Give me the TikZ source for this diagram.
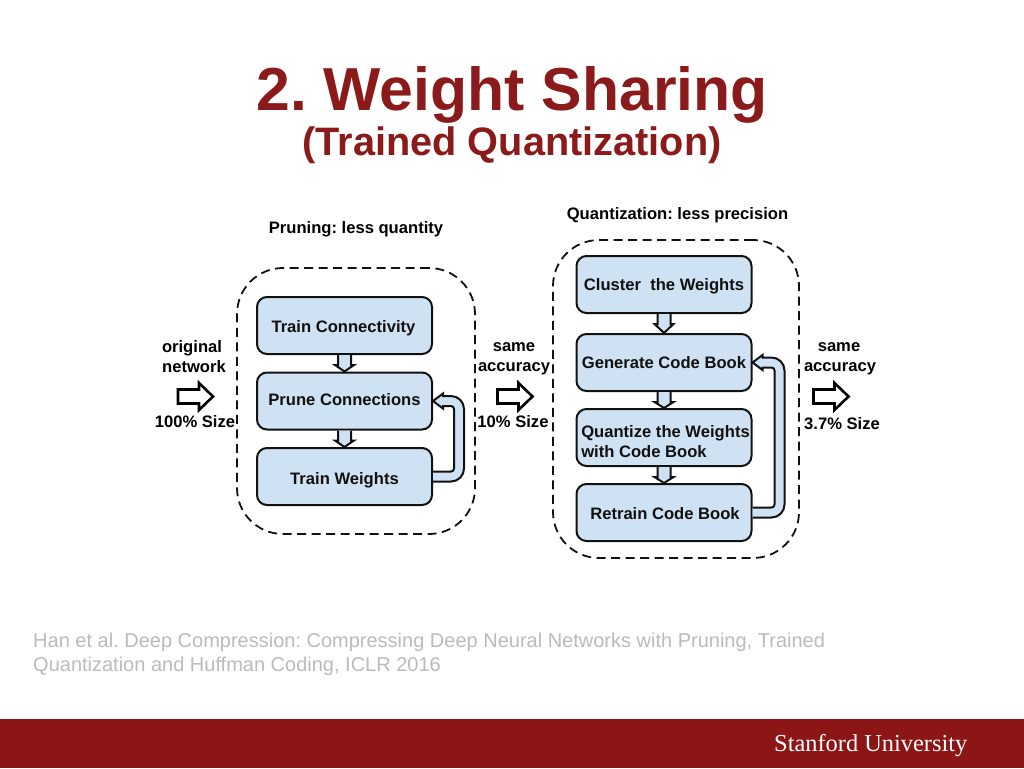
\documentclass[tikz,border=0pt]{standalone}
\usepackage{fontspec}
\setmainfont{Liberation Sans}
\newfontfamily\stanfordfont{Liberation Serif}
\usetikzlibrary{calc}
\definecolor{stanred}{HTML}{8C1515}
\definecolor{titlered}{HTML}{8B1A1A}
\definecolor{boxblue}{HTML}{CFE2F3}
\definecolor{inkdark}{HTML}{111111}
\definecolor{footgray}{HTML}{BBBBBB}
\frenchspacing
\tikzset{
  x=1pt,y=-1pt,
  stepbox/.style={draw=inkdark,fill=boxblue,line width=2pt,rounded corners=10pt,minimum width=175pt,minimum height=57pt,inner sep=0pt,font=\bfseries\fontsize{16.6}{20}\selectfont,text=inkdark,align=center},
  groupbox/.style={draw=inkdark,line width=1.8pt,dash pattern=on 9pt off 5.5pt,rounded corners=46pt,inner sep=0pt},
  lab/.style={anchor=base,inner sep=0pt,font=\bfseries\fontsize{16.6}{20}\selectfont,text=black},
  flow/.style={draw=inkdark,fill=boxblue,line width=2pt,line join=miter,miter limit=4},
  bigarrow/.style={draw=black,fill=white,line width=2.6pt,line join=miter,miter limit=4},
}
% text whose baseline sits a given distance below the centre of its box
\newcommand{\txtshift}[2]{\raisebox{-#1}[0pt][0pt]{#2}}
\newcommand{\flowdown}[2]{\draw[flow] ($(#1.south)+(-6.5,0)$) -- ($(#1.south)+(-6.5,10)$) -- ($(#1.south)+(-9.5,10)$) -- (#2.north) -- ($(#1.south)+(9.5,10)$) -- ($(#1.south)+(6.5,10)$) -- ($(#1.south)+(6.5,0)$);}
\newcommand{\flowback}[3]{\draw[flow] let \p1=(#1.east), \p2=(#2.east) in
  (\x1,\y1-5pt) [rounded corners=13pt] -- (\x1+#3,\y1-5pt) -- (\x1+#3,\y2+5pt) [sharp corners] -- (\x2+10pt,\y2+5pt)
  -- (\x2+10pt,\y2+7.5pt) -- (\x2,\y2) -- (\x2+10pt,\y2-7.5pt) -- (\x2+10pt,\y2-5pt) [rounded corners=3pt]
  -- (\x1+#3-10pt,\y2-5pt) -- (\x1+#3-10pt,\y1+5pt) [sharp corners] -- (\x1,\y1+5pt);}
\newcommand{\bigarrowat}[1]{\draw[bigarrow] ($(#1)+(-18,-7)$) -- ($(#1)+(3,-7)$) -- ($(#1)+(3,-13.5)$) -- ($(#1)+(17,0)$) -- ($(#1)+(3,13.5)$) -- ($(#1)+(3,7)$) -- ($(#1)+(-18,7)$) -- cycle;}
\begin{document}
\begin{tikzpicture}
\useasboundingbox (0,0) rectangle (1024,768);
\fill[white] (0,0) rectangle (1024,768);
\fill[stanred] (0,719) rectangle (1024,768);
\node[anchor=base,inner sep=0pt,font=\bfseries\fontsize{60.7}{61}\selectfont,text=titlered] (title) at (512,110) {2. Weight Sharing};
\node[anchor=base,inner sep=0pt,font=\bfseries\fontsize{39.7}{40}\selectfont,text=titlered] (subtitle) at (512,155) {(Trained Quantization)};
\node[lab] (lp) at (356,233) {Pruning: less quantity};
\node[lab] (lq) at (677.5,219) {Quantization: less precision};
\node[groupbox,minimum width=238pt,minimum height=266pt] (g1) at (356,401) {};
\node[groupbox,minimum width=246pt,minimum height=318pt] (g2) at (676,399) {};
\node[stepbox] (tc) at (344.5,325.5) {\hspace*{-2pt}\txtshift{6.5pt}{Train Connectivity}};
\node[stepbox] (pc) at (344.5,401) {\txtshift{4pt}{Prune Connections}};
\node[stepbox] (tw) at (344.5,476.5) {\txtshift{7.5pt}{Train Weights}};
\node[stepbox] (cw) at (664,284.5) {\txtshift{5.5pt}{Cluster\ \ the Weights}};
\node[stepbox] (gc) at (664,362.5) {\txtshift{5.5pt}{Generate Code Book}};
\node[stepbox] (qw) at (664,437.5) {\hspace*{3pt}\txtshift{-0.5pt}{\begin{tabular}[t]{@{}l@{}}Quantize the Weights\\with Code Book\end{tabular}}};
\node[stepbox] (rc) at (664,512.5) {\hspace*{2pt}\txtshift{6.5pt}{Retrain Code Book}};
\flowdown{tc}{pc}
\flowdown{pc}{tw}
\flowdown{cw}{gc}
\flowdown{gc}{qw}
\flowdown{qw}{rc}
\flowback{tw}{pc}{31pt}
\flowback{rc}{gc}{32pt}
\coordinate (a1) at (196,396.5);
\coordinate (a2) at (515.5,396.5);
\coordinate (a3) at (831.5,396.5);
\bigarrowat{a1}
\bigarrowat{a2}
\bigarrowat{a3}
\node[lab] (o1) at (192,352) {original};
\node[lab] (o2) at (194,372) {network};
\node[lab] (o3) at (195,427) {100\% Size};
\node[lab] (s1) at (514,351) {same};
\node[lab] (s2) at (514,371) {accuracy};
\node[lab] (s3) at (513,427) {10\% Size};
\node[lab] (t1) at (839,351) {same};
\node[lab] (t2) at (840,371) {accuracy};
\node[lab] (t3) at (842,429) {3.7\% Size};
\node[anchor=base west,inner sep=0pt,font=\fontsize{20}{24}\selectfont,text=footgray] (f1) at (33,647) {Han et al. Deep Compression: Compressing Deep Neural Networks with Pruning, Trained};
\node[anchor=base west,inner sep=0pt,font=\fontsize{20}{24}\selectfont,text=footgray] (f2) at (33,671) {Quantization and Huffman Coding, ICLR 2016};
\node[anchor=base west,inner sep=0pt,font=\stanfordfont\fontsize{24.4}{25}\selectfont,text=white] (su) at (774,751) {Stanford University};
\end{tikzpicture}
\end{document}
